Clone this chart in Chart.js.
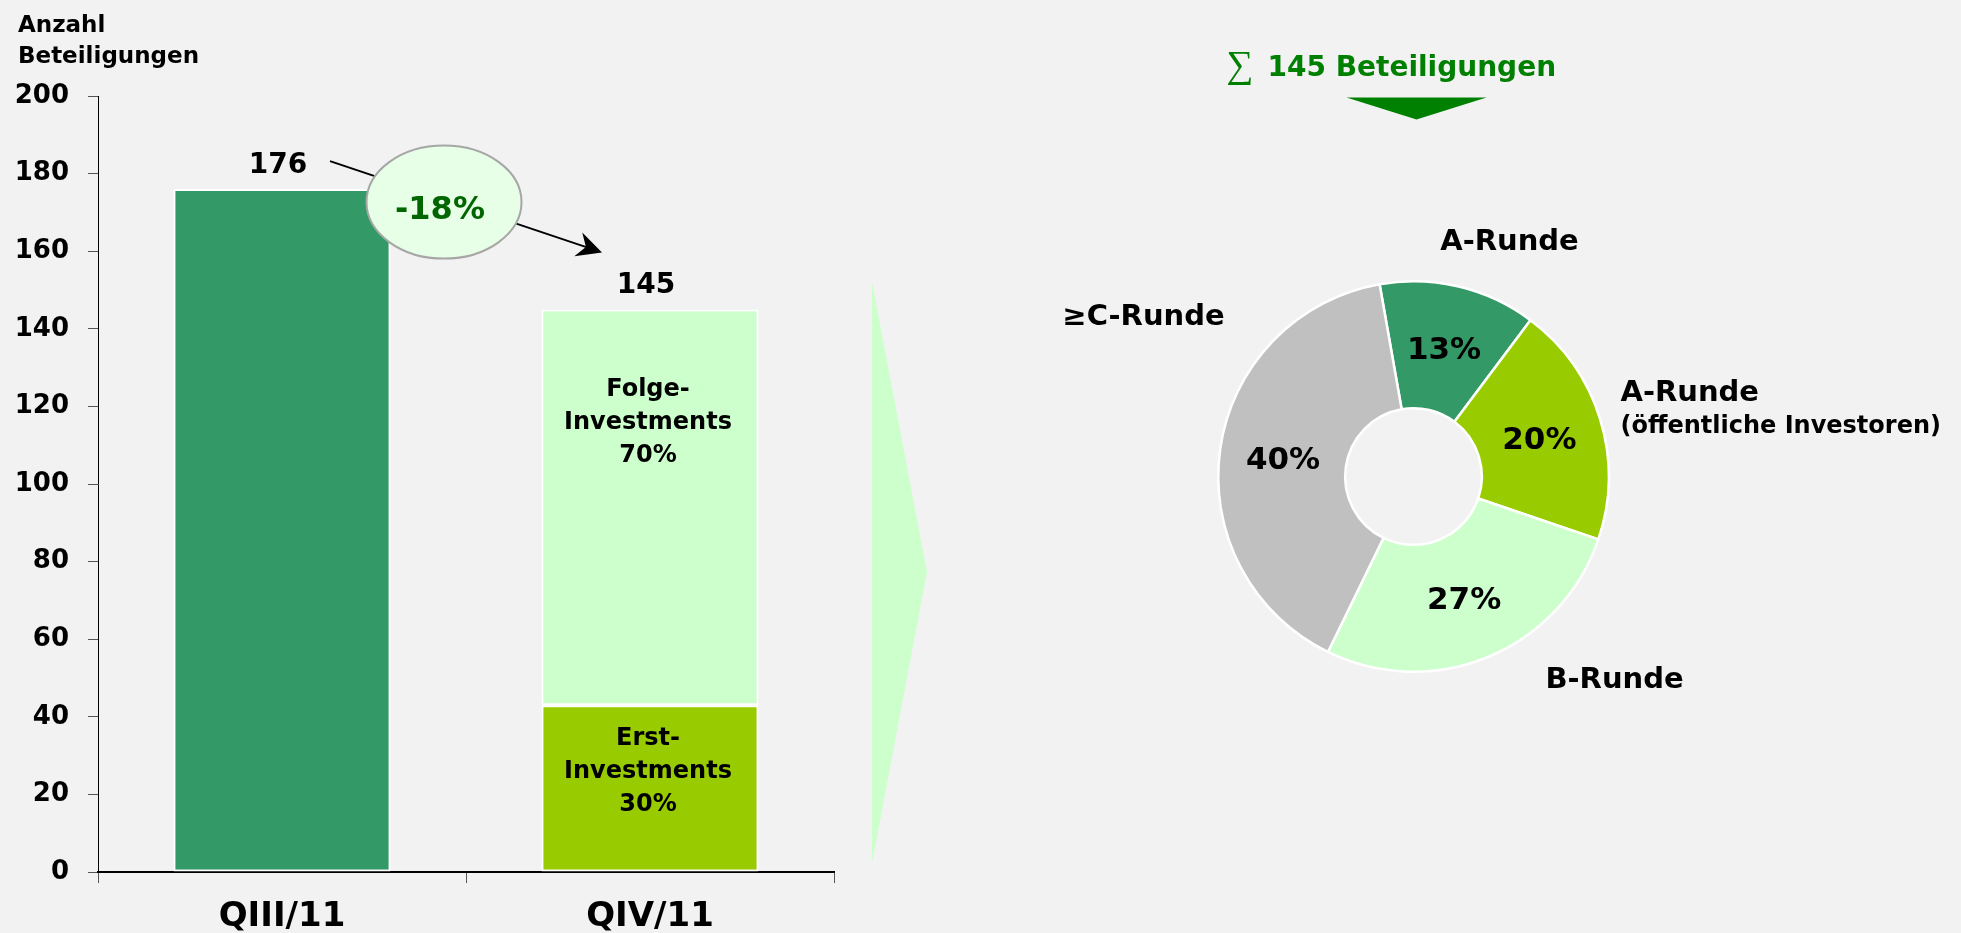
<!DOCTYPE html>
<html>
<head>
<meta charset="utf-8">
<script src="https://cdn.jsdelivr.net/npm/chart.js@4.4.1/dist/chart.umd.min.js"></script>
<style>
  html, body { margin: 0; padding: 0; background: #f2f2f2; }
  body { width: 1961px; height: 933px; position: relative; overflow: hidden; }
  #barBox { position: absolute; left: 0; top: 0; width: 1000px; height: 933px; }
  #pieBox { position: absolute; left: 1000px; top: 0; width: 961px; height: 933px; }
</style>
</head>
<body>
<div id="barBox"><canvas id="bar"></canvas></div>
<div id="pieBox"><canvas id="pie"></canvas></div>
<script>
// ── Data ──────────────────────────────────────────────────────────────────────
const quarters    = ['QIII/11', 'QIV/11'];
const gesamt      = [176, null];
const erst        = [null, 43];
const folge       = [null, 102];
const totals      = [176, 145];
const axisTitle   = ['Anzahl', 'Beteiligungen'];
const yRange      = { min: 0, max: 200, step: 20 };

const rounds      = [['A-Runde'], ['A-Runde', '(öffentliche Investoren)'], ['B-Runde'], ['≥C-Runde']];
const roundShares = [13, 20, 27, 40];

// ── Theme ─────────────────────────────────────────────────────────────────────
const C = {
  dark:  '#339966',
  lime:  '#99cc00',
  mint:  '#ccffcc',
  grey:  '#c0c0c0',
  green: '#008000',
  deep:  '#006600',
  ink:   '#000000',
  tick:  '#555555'
};
const FAMILY = "'DejaVu Sans', Verdana, sans-serif";
const F = (size, weight = 'bold') => `${weight} ${size}px ${FAMILY}`;
const pct = (v, total) => Math.round(v / total * 100) + '%';

// ── Bar chart decorations ─────────────────────────────────────────────────────
const barDecor = {
  id: 'barDecor',
  afterDraw(chart) {
    const { ctx, scales: { x, y } } = chart;
    ctx.save();
    ctx.textBaseline = 'alphabetic';

    // axis title
    ctx.fillStyle = C.ink;
    ctx.font = F(23);
    ctx.textAlign = 'left';
    axisTitle.forEach((t, i) => ctx.fillText(t, 18, 32 + i * 31));

    // totals above the bars
    ctx.font = F(28);
    ctx.textAlign = 'center';
    totals.forEach((v, i) => ctx.fillText(String(v), x.getPixelForValue(i) - 4, y.getPixelForValue(v) - 16));

    // segment texts
    const cx = x.getPixelForValue(1) - 2;
    const segs = [
      { lines: ['Folge-', 'Investments', pct(folge[1], totals[1])], top: y.getPixelForValue(totals[1]), off: 87 },
      { lines: ['Erst-', 'Investments', pct(erst[1], totals[1])],   top: y.getPixelForValue(erst[1]),   off: 40 }
    ];
    ctx.font = F(24);
    segs.forEach(s => s.lines.forEach((t, i) => ctx.fillText(t, cx, s.top + s.off + i * 33)));

    // arrow from 176 to 145
    const x0 = x.getPixelForValue(0), x1 = x.getPixelForValue(1);
    const sx = x0 + 48, sy = y.getPixelForValue(totals[0]) - 28;
    const ex = x1 - 48, ey = y.getPixelForValue(totals[1]) - 57;
    const a = Math.atan2(ey - sy, ex - sx);
    const dx = Math.cos(a), dy = Math.sin(a);
    ctx.strokeStyle = C.ink;
    ctx.lineWidth = 2;
    ctx.beginPath();
    ctx.moveTo(sx, sy);
    ctx.lineTo(ex - 15 * dx, ey - 15 * dy);
    ctx.stroke();
    const L = 25, W = 12.5;
    ctx.fillStyle = C.ink;
    ctx.beginPath();
    ctx.moveTo(ex, ey);
    ctx.lineTo(ex - L * dx - W * dy, ey - L * dy + W * dx);
    ctx.lineTo(ex - (L - 8) * dx, ey - (L - 8) * dy);
    ctx.lineTo(ex - L * dx + W * dy, ey - L * dy - W * dx);
    ctx.closePath();
    ctx.fill();

    // change bubble
    const bx = (x0 + x1) / 2 - 22, by = y.getPixelForValue(totals[0]) + 13;
    ctx.beginPath();
    ctx.ellipse(bx, by, 77.5, 56.5, 0, 0, Math.PI * 2);
    ctx.fillStyle = '#e6ffe6';
    ctx.fill();
    ctx.strokeStyle = '#a6a6a6';
    ctx.lineWidth = 2;
    ctx.stroke();
    const change = (totals[1] - totals[0]) / totals[0] * 100;
    ctx.fillStyle = C.deep;
    ctx.font = F(32);
    ctx.fillText(Math.round(change) + '%', bx - 4, by + 17);

    // big pointer to the doughnut
    const tl = x.right + 38;
    ctx.fillStyle = C.mint;
    ctx.beginPath();
    ctx.moveTo(tl, 282);
    ctx.lineTo(tl + 55, 572);
    ctx.lineTo(tl, 863);
    ctx.closePath();
    ctx.fill();

    ctx.restore();
  }
};

// ── Doughnut decorations ──────────────────────────────────────────────────────
const pieDecor = {
  id: 'pieDecor',
  afterDraw(chart) {
    const { ctx } = chart;
    const arcs = chart.getDatasetMeta(0).data;
    const cx = arcs[0].x, cy = arcs[0].y;
    const sum = roundShares.reduce((s, v) => s + v, 0);
    ctx.save();
    ctx.textBaseline = 'alphabetic';
    ctx.fillStyle = C.ink;

    // shares inside the ring
    ctx.font = F(31);
    ctx.textAlign = 'center';
    arcs.forEach((arc, i) => {
      const p = arc.tooltipPosition();
      ctx.fillText(pct(roundShares[i], sum), p.x, p.y + 11);
    });

    // round names around the ring
    const spots = [
      { dx: 96,   dy: -227, align: 'center' },
      { dx: 207,  dy: -76,  align: 'left' },
      { dx: 201,  dy: 211,  align: 'center' },
      { dx: -270, dy: -152, align: 'center' }
    ];
    rounds.forEach((lines, i) => {
      const s = spots[i];
      ctx.textAlign = s.align;
      lines.forEach((t, j) => {
        ctx.font = j === 0 ? F(29) : F(24);
        ctx.fillText(t, cx + s.dx, cy + s.dy + j * 32);
      });
    });

    // headline with sum
    ctx.fillStyle = C.green;
    ctx.textAlign = 'left';
    ctx.font = "normal 38px 'Liberation Serif', 'DejaVu Serif', serif";
    ctx.fillText('\u2211', cx - 187, cy - 400);
    ctx.font = F(28);
    ctx.fillText(totals[1] + ' Beteiligungen', cx - 146, cy - 401);

    ctx.beginPath();
    ctx.moveTo(cx - 67, cy - 379);
    ctx.lineTo(cx + 73, cy - 379);
    ctx.lineTo(cx + 3, cy - 357);
    ctx.closePath();
    ctx.fill();

    ctx.restore();
  }
};

// ── Charts ────────────────────────────────────────────────────────────────────
new Chart(document.getElementById('bar'), {
  type: 'bar',
  data: {
    labels: quarters,
    datasets: [
      { label: 'Gesamt',            data: gesamt, backgroundColor: C.dark },
      { label: 'Erst-Investments',  data: erst,   backgroundColor: C.lime },
      { label: 'Folge-Investments', data: folge,  backgroundColor: C.mint }
    ]
  },
  options: {
    responsive: true, maintainAspectRatio: false, animation: false,
    layout: { padding: { top: 96, right: 166, left: 0, bottom: 0 } },
    datasets: {
      bar: { categoryPercentage: 1, barPercentage: 0.59, borderColor: '#ffffff', borderWidth: 2, borderSkipped: false }
    },
    plugins: { legend: { display: false }, tooltip: { enabled: false } },
    scales: {
      x: {
        stacked: true,
        grid: { drawOnChartArea: false, tickLength: 11, color: C.tick, offset: true },
        border: { color: C.ink, width: 2 },
        ticks: { color: C.ink, font: { family: FAMILY, size: 34, weight: 'bold' }, padding: 14 },
        afterFit: s => { s.height = 61; }
      },
      y: {
        stacked: true, min: yRange.min, max: yRange.max,
        grid: { drawOnChartArea: false, tickLength: 10, color: C.tick },
        border: { color: C.ink, width: 1 },
        ticks: { stepSize: yRange.step, color: C.ink, font: { family: FAMILY, size: 26, weight: 'bold' }, padding: 19 },
        afterFit: s => { s.width = 98; }
      }
    }
  },
  plugins: [barDecor]
});

new Chart(document.getElementById('pie'), {
  type: 'doughnut',
  data: {
    labels: rounds,
    datasets: [{
      data: roundShares,
      backgroundColor: [C.dark, C.lime, C.mint, C.grey],
      borderColor: '#ffffff',
      borderWidth: 2.5
    }]
  },
  options: {
    responsive: true, maintainAspectRatio: false, animation: false,
    rotation: -10,
    cutout: '35%',
    layout: { padding: { left: 217, right: 351, top: 280, bottom: 260 } },
    plugins: { legend: { display: false }, tooltip: { enabled: false } }
  },
  plugins: [pieDecor]
});
</script>
</body>
</html>
